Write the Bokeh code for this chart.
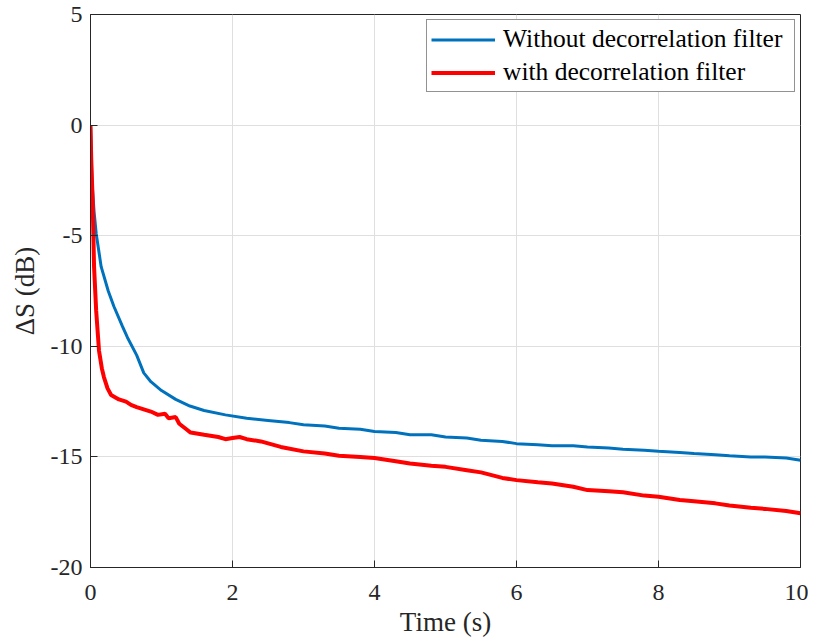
from bokeh.plotting import figure
from bokeh.models import Range1d, Legend, LegendItem, FixedTicker
from bokeh.embed import file_html
from bokeh.resources import INLINE

# ---- data ----
blue_x = [0, 0.02, 0.05, 0.08, 0.15, 0.25, 0.33, 0.45, 0.52, 0.65, 0.75, 0.85,
          1.0, 1.2, 1.4, 1.6, 1.9, 2.2, 2.5, 2.8, 3.0, 3.3, 3.5, 3.8, 4.0, 4.3,
          4.5, 4.8, 5.0, 5.3, 5.5, 5.8, 6.0, 6.3, 6.5, 6.8, 7.0, 7.3, 7.5, 7.8,
          8.0, 8.3, 8.5, 8.8, 9.0, 9.3, 9.5, 9.8, 10.0]
blue_y = [0, -2.5, -3.9, -4.9, -6.4, -7.5, -8.2, -9.1, -9.6, -10.4, -11.2, -11.6,
          -12.0, -12.4, -12.7, -12.9, -13.1, -13.25, -13.35, -13.45, -13.55, -13.6, -13.7, -13.75, -13.85, -13.9,
          -14.0, -14.0, -14.1, -14.15, -14.25, -14.3, -14.4, -14.45, -14.5, -14.5, -14.55, -14.6, -14.65, -14.7,
          -14.75, -14.8, -14.85, -14.9, -14.95, -15.0, -15.0, -15.05, -15.15]

red_x = [0, 0.01, 0.03, 0.05, 0.08, 0.12, 0.16, 0.19, 0.24, 0.29, 0.4, 0.5, 0.57,
         0.65, 0.75, 0.85, 0.95, 1.05, 1.1, 1.2, 1.25, 1.35, 1.41, 1.6, 1.8, 1.9, 2.0, 2.1, 2.2, 2.4, 2.68, 3.0, 3.3,
         3.5, 3.8, 4.0, 4.3, 4.5, 4.8, 5.0, 5.3, 5.5, 5.8, 6.0, 6.3, 6.5, 6.8,
         7.0, 7.3, 7.5, 7.8, 8.0, 8.3, 8.5, 8.8, 9.0, 9.3, 9.5, 9.8, 10.0]
red_y = [0, -1.5, -3.4, -6.4, -8.4, -10.2, -11.0, -11.4, -11.9, -12.2, -12.4, -12.5, -12.65,
         -12.75, -12.85, -12.95, -13.1, -13.05, -13.25, -13.2, -13.5, -13.75, -13.9, -14.0, -14.1, -14.2, -14.15, -14.1, -14.2, -14.3, -14.55, -14.75, -14.85,
         -14.95, -15.0, -15.05, -15.2, -15.3, -15.4, -15.45, -15.6, -15.7, -15.95, -16.05, -16.15, -16.2, -16.35,
         -16.5, -16.55, -16.6, -16.75, -16.8, -16.95, -17.0, -17.1, -17.2, -17.3, -17.35, -17.45, -17.55]

x_ticks = [0, 2, 4, 6, 8, 10]
y_ticks = [-20, -15, -10, -5, 0, 5]
labels = ["Without decorrelation filter", "with decorrelation filter"]
colors = ["#0072BD", "#FF0000"]

FONT = "Liberation Serif"
AX = "#262626"

p = figure(width=808, height=640, output_backend="svg", toolbar_location=None,
           x_range=Range1d(0, 10), y_range=Range1d(-20, 5),
           min_border_left=90, min_border_top=14, min_border_right=8, min_border_bottom=73)

r1 = p.line(blue_x, blue_y, color=colors[0], line_width=3)
r2 = p.line(red_x, red_y, color=colors[1], line_width=4)

p.xaxis.ticker = FixedTicker(ticks=x_ticks)
p.yaxis.ticker = FixedTicker(ticks=y_ticks)
p.xaxis.major_label_overrides = {t: str(t) for t in x_ticks}
p.yaxis.major_label_overrides = {t: str(t) for t in y_ticks}
for ax in (p.xaxis[0], p.yaxis[0]):
    ax.major_label_text_font = FONT
    ax.major_label_text_font_size = "24px"
    ax.major_label_text_color = AX
    ax.axis_label_text_font = FONT
    ax.axis_label_text_font_size = "27px"
    ax.axis_label_text_font_style = "normal"
    ax.axis_label_text_color = AX
    ax.axis_line_color = AX
    ax.major_tick_line_color = AX
    ax.major_tick_in = 7
    ax.major_tick_out = 0
    ax.minor_tick_line_color = None
p.xaxis.axis_label = "Time (s)"
p.yaxis.axis_label = "ΔS (dB)"
p.xaxis.major_label_standoff = 17
p.yaxis.major_label_standoff = 8
p.xaxis.axis_label_standoff = 4
p.yaxis.axis_label_standoff = 8

p.xgrid.ticker = FixedTicker(ticks=x_ticks)
p.ygrid.ticker = FixedTicker(ticks=y_ticks)
p.grid.grid_line_color = "#dfdfdf"
p.grid.grid_line_width = 1
p.outline_line_color = AX

legend = Legend(items=[LegendItem(label=labels[0], renderers=[r1]),
                       LegendItem(label=labels[1], renderers=[r2])],
                location="top_right")
legend.label_text_font = FONT
legend.label_text_font_size = "25.5px"
legend.label_text_color = "#000000"
legend.glyph_width = 64
legend.glyph_height = 29
legend.label_height = 29
legend.label_width = 287
legend.label_standoff = 8
legend.spacing = 3
legend.padding = 4
legend.margin = 5
legend.border_line_color = AX
legend.border_line_width = 1
legend.background_fill_alpha = 1
p.add_layout(legend)

open("out.html", "w").write(file_html(p, INLINE))
